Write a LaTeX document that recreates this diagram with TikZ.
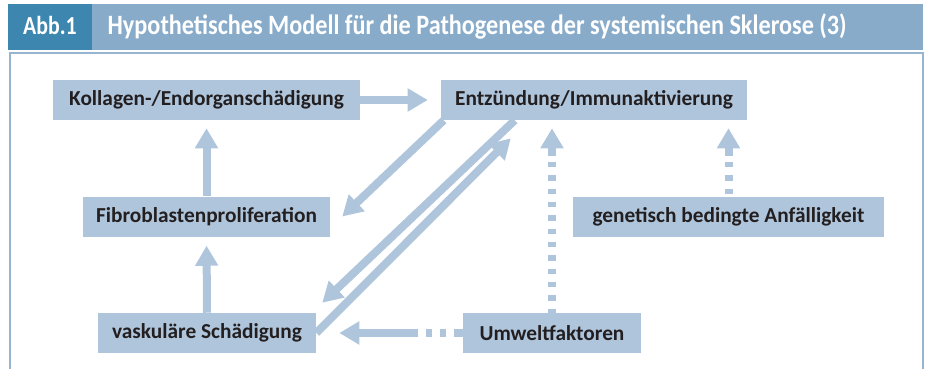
\documentclass[tikz,border=0pt]{standalone}
\usepackage{fontspec}
\setmainfont{Carlito}
\newfontfamily\titlefont[FakeStretch=0.84]{Carlito}
\newfontfamily\headfont[FakeStretch=0.865]{Carlito}
\usepackage{xcolor}
\usepackage{tikz}
\usetikzlibrary{positioning, arrows.meta, calc}
\definecolor{boxblue}{HTML}{AFC5DC}
\definecolor{barlight}{HTML}{88ABCA}
\definecolor{bardark}{HTML}{3C86B0}
\definecolor{frameblue}{HTML}{97B5D1}
\definecolor{textdark}{HTML}{231F20}
\tikzset{
    stage/.style={fill=boxblue, text=textdark, inner sep=0pt, minimum height=30pt,
        font=\fontsize{16pt}{18pt}\selectfont\bfseries},
    pathway/.style={draw=boxblue, line width=6pt, -{Triangle[length=15pt, width=16.5pt]}},
    factor/.style={draw=boxblue, line width=6pt, {Triangle[length=15pt, width=16.5pt]}-,
        shorten <=6pt, dash pattern=on 6.75pt off 4.5pt on 4pt off 6pt on 4pt off 6pt
        on 4pt off 6pt on 4pt off 6pt on 4pt off 6pt on 4pt off 6pt on 4pt off 6pt
        on 4pt off 6pt on 4pt off 6pt on 4pt off 6pt on 4pt off 6pt on 4pt off 6pt on 10pt off 0pt}
}

\begin{document}
\begin{tikzpicture}[x=0.75pt, y=-0.75pt]
    \useasboundingbox (0,0) rectangle (925,369);
    \fill[bardark] (8,4) rectangle (92,50);
    \fill[barlight] (92,4) rectangle (923,50);
    \node[anchor=base, text=white, font=\titlefont\fontsize{19.5pt}{21pt}\selectfont\bfseries] (abb) at (50,34) {Abb.1};
    \node[anchor=base west, text=white, font=\headfont\fontsize{21pt}{23pt}\selectfont\bfseries] (title) at (103,34)
        {Hypothetisches Modell für die Pathogenese der systemischen Sklerose (3)};
    \draw[frameblue, line width=1.5pt] (9.5,369) -- (9.5,53) -- (922.5,53) -- (922.5,369);

    \node[stage, minimum width=230.25pt] (kollagen) at (206.5,100) {Kollagen-/Endorganschädigung};
    \node[stage, minimum width=229.5pt] (entz) at (594,100) {Entzündung/Immunaktivierung};
    \node[stage, minimum width=185.25pt] (fibro) at (206.5,216.5) {Fibroblastenproliferation};
    \node[stage, minimum width=233.25pt] (genetik) at (728.5,216.5) {genetisch bedingte Anfälligkeit};
    \node[stage, minimum width=163.5pt] (vaskulaer) at (207,333) {vaskuläre Schädigung};
    \node[stage, minimum width=133.5pt] (umwelt) at (552,333) {Umweltfaktoren};

    \draw[pathway, shorten >=9.75pt] (kollagen.east) -- (entz.west);
    \draw[pathway, shorten >=6pt] (fibro.north) -- (kollagen.south);
    \draw[pathway, shorten >=6.75pt] (vaskulaer.north) -- (fibro.south);
    \draw[pathway] ($(entz.south west)+(3,0)$) -- ($(fibro.east)+(12,0)$);
    \draw[pathway] ($(entz.south west)+(74,0)$) -- ($(vaskulaer.north east)+(6,-10)$);
    \draw[pathway] (vaskulaer.east) -- ($(entz.south west)+(70,18)$);

    \draw[factor] (umwelt.north |- entz.south) -- (umwelt.north);
    \draw[factor] (genetik.north |- entz.south) -- (genetik.north);
    \draw[factor, shorten <=17.25pt, dash pattern=on 45pt off 6pt on 4.5pt off 6pt on 4.5pt off 6pt on 8pt off 0pt]
        (vaskulaer.east) -- (umwelt.west);
\end{tikzpicture}
\end{document}
